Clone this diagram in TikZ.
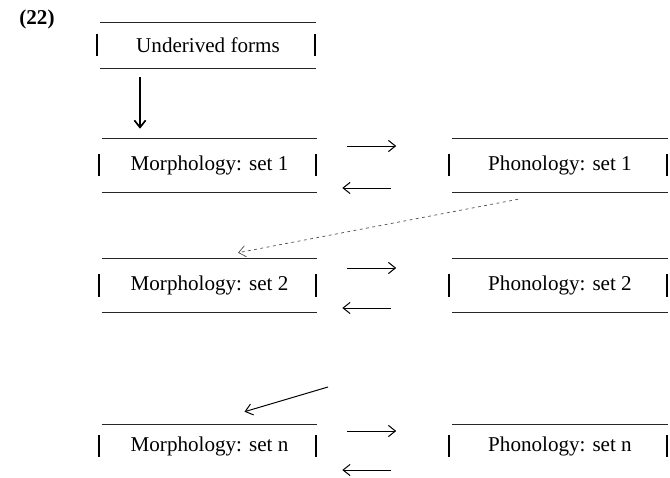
\documentclass[tikz,border=0pt]{standalone}
\usepackage{fontspec}
\setmainfont{Liberation Serif}
\usetikzlibrary{arrows.meta,calc}

\tikzset{
  setlabel/.style={inner sep=0pt, font=\fontsize{15}{18}\selectfont},
  rowbox/.style={setlabel, minimum width=5.375cm, minimum height=1.325cm},
  rule/.style={line width=0.8pt, black!85},
  sidebar/.style={line width=1.6pt},
  flow/.style={line width=0.7pt, -{Straight Barb[length=5pt,width=8pt]}},
  feedback/.style={flow, line width=0.5pt, black!70, dash pattern=on 2pt off 2.5pt},
}
\newcommand{\framedset}[1]{%
  \draw[rule] (#1.north west) -- (#1.north east);
  \draw[sidebar] ([shift={(-3,-11)}]#1.west) -- ([shift={(-3,11)}]#1.west);
  \draw[sidebar] ([shift={(-1,-11)}]#1.east) -- ([shift={(-1,11)}]#1.east);}

\begin{document}
\begin{tikzpicture}[x=0.025cm, y=-0.025cm]
  \useasboundingbox (0,0) rectangle (670,478);
  \node[setlabel, font=\fontsize{15}{18}\selectfont\bfseries] (num) at (37,19) {(22)};
  % boxes
  \node[rowbox, minimum width=5.4cm, minimum height=1.125cm] (under) at (208,45.5) {Underived forms};
  \node[rowbox] (morph1) at (209.5,165.5) {Morphology: set 1};
  \node[rowbox] (phon1) at (560,165.5) {Phonology: set 1};
  \node[rowbox] (morph2) at (209.5,285.5) {Morphology: set 2};
  \node[rowbox] (phon2) at (560,285.5) {Phonology: set 2};
  \node[rowbox, minimum height=1.05cm] (morphn) at (209.5,446) {Morphology: set n};
  \node[rowbox, minimum height=1.05cm] (phonn) at (560,446) {Phonology: set n};
  \foreach \b in {under,morph1,phon1,morph2,phon2,morphn,phonn} {\framedset{\b}}
  \foreach \b in {under,morph1,phon1,morph2,phon2}
    \draw[rule] (\b.south west) -- (\b.south east);
  % arrows
  \draw[flow, line width=1.2pt] ([shift={(-68,9)}]under.south) -- ([shift={(-69.5,-10)}]morph1.north);
  \foreach \m/\p/\up/\dn in {morph1/phon1/-19.5/22.5, morph2/phon2/-17.5/22.5, morphn/phonn/-15/24} {
    \draw[flow] ([shift={(30,\up)}]\m.east) -- ([shift={(-56,\up)}]\p.west);
    \draw[flow] ([shift={(-61,\dn)}]\p.west) -- ([shift={(25,\dn)}]\m.east);
  }
  \draw[feedback] ([shift={(-42,7)}]phon1.south) -- ([shift={(28.5,-6)}]morph2.north);
  \coordinate (cont) at (328,387);
  \draw[flow] (cont) -- ([shift={(35,-13)}]morphn.north);
\end{tikzpicture}
\end{document}
